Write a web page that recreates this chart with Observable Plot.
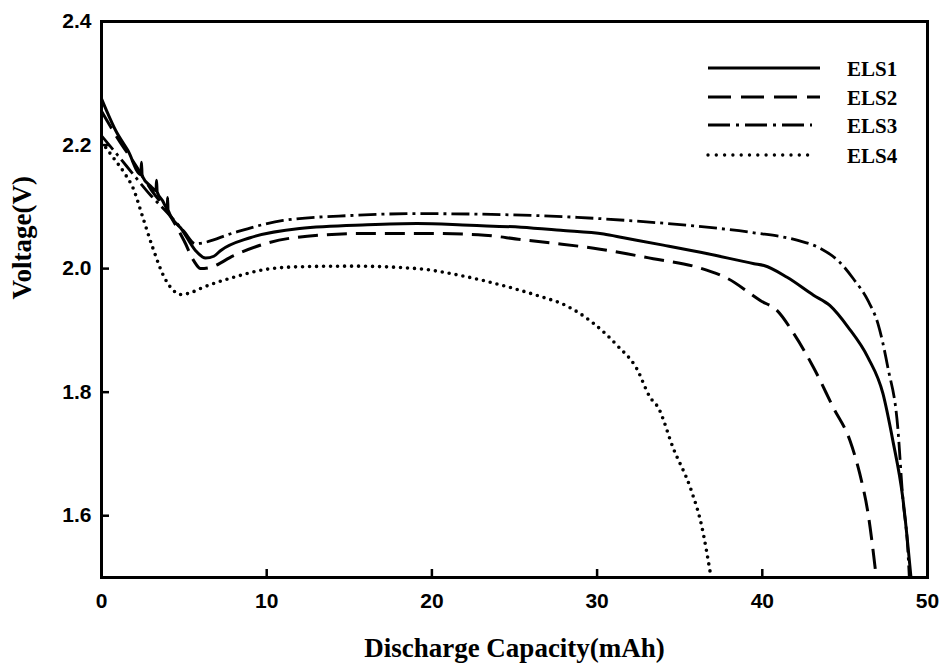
<!DOCTYPE html>
<html>
<head>
<meta charset="utf-8">
<script src="https://cdn.jsdelivr.net/npm/d3@7"></script>
<script src="https://cdn.jsdelivr.net/npm/@observablehq/plot@0.6"></script>
<style>
  html, body { margin: 0; padding: 0; background: #fff; }
  #chart { position: relative; width: 942px; height: 665px; }
</style>
</head>
<body>
<div id="chart"></div>
<script>
// Series names
const seriesNames = ["ELS1", "ELS2", "ELS3", "ELS4"];

// [capacity (mAh), voltage (V)]
const els1 = [
  [0, 2.275], [0.4, 2.25], [0.85, 2.224], [1.6, 2.191], [2.38, 2.152], [2.42, 2.172], [2.46, 2.150],
  [3.0, 2.133], [3.3, 2.126], [3.33, 2.143], [3.37, 2.124], [3.7, 2.110], [3.98, 2.097], [4.0, 2.115], [4.03, 2.095],
  [4.9, 2.062], [5.7, 2.029], [6.3, 2.017], [6.8, 2.020], [7.2, 2.029], [9.0, 2.050], [12.0, 2.065],
  [16.1, 2.071], [19.1, 2.073], [22.3, 2.070], [25.4, 2.067], [27.8, 2.062], [30.4, 2.056],
  [31.6, 2.050], [34.0, 2.038], [36.7, 2.024], [39.5, 2.008], [40.1, 2.005], [41.5, 1.986],
  [43.1, 1.957], [44.1, 1.940], [45.2, 1.905], [46.4, 1.856], [47.3, 1.798], [47.9, 1.722],
  [48.5, 1.630], [49.0, 1.500]
];
const els2 = [
  [0, 2.255], [1.0, 2.21], [2.0, 2.17], [3.0, 2.128], [4.0, 2.092], [5.0, 2.045], [5.6, 2.012],
  [6.0, 2.000], [6.6, 2.002], [8.0, 2.021], [10.0, 2.041], [13.1, 2.054], [16.1, 2.057],
  [19.1, 2.057], [22.8, 2.055], [25.4, 2.047], [27.4, 2.041], [29.8, 2.033], [31.8, 2.024],
  [33.4, 2.016], [36.1, 2.002], [37.9, 1.984], [39.9, 1.948], [40.9, 1.932], [41.9, 1.895],
  [43.1, 1.840], [44.3, 1.775], [45.3, 1.722], [45.9, 1.668], [46.4, 1.604], [46.9, 1.500]
];
const els3 = [
  [0, 2.215], [1.0, 2.183], [2.0, 2.150], [3.0, 2.118], [4.0, 2.090], [5.0, 2.060], [5.7, 2.040],
  [6.0, 2.041], [8.0, 2.058], [11.0, 2.078], [15.1, 2.086], [19.1, 2.089], [24.8, 2.087],
  [28.8, 2.083], [31.8, 2.078], [35.5, 2.070], [39.5, 2.058], [42.1, 2.046], [43.5, 2.033],
  [44.7, 2.010], [45.5, 1.984], [46.4, 1.948], [47.0, 1.911], [47.6, 1.840], [48.2, 1.743],
  [48.5, 1.630], [48.8, 1.549], [48.9, 1.500]
];
const els4 = [
  [0, 2.205], [0.7, 2.180], [1.5, 2.150], [1.9, 2.131], [2.5, 2.083], [3.1, 2.034], [3.8, 1.986],
  [4.3, 1.966], [4.8, 1.958], [5.4, 1.961], [6.0, 1.968], [8.0, 1.986], [10.0, 1.999],
  [12.0, 2.003], [15.1, 2.004], [19.1, 2.000], [21.7, 1.989], [24.8, 1.969], [26.8, 1.953],
  [27.8, 1.944], [29.8, 1.911], [31.2, 1.876], [32.4, 1.838], [33.2, 1.792], [33.7, 1.775],
  [34.6, 1.710], [35.7, 1.641], [36.3, 1.587], [36.9, 1.500]
];

// Axis ticks and labels
const xTicks = [0, 10, 20, 30, 40, 50];
const yTicks = [1.6, 1.8, 2.0, 2.2, 2.4];
const xLabel = "Discharge Capacity(mAh)";
const yLabel = "Voltage(V)";

const seriesData = [els1, els2, els3, els4];
const dashes = [null, "20,9", "18,5,3,5", "0,7"];
const widths = [3, 3, 2.8, 3.6];

const tickFont = "Liberation Sans, Arial, Helvetica, sans-serif";
const serifFont = "Liberation Serif, Times New Roman, serif";

const lineMarks = seriesData.map((data, i) =>
  Plot.line(data, {
    x: d => d[0], y: d => d[1],
    stroke: "black", strokeWidth: widths[i],
    strokeDasharray: dashes[i],
    strokeLinecap: i === 3 ? "round" : "butt",
    curve: "monotone-x", clip: true
  })
);

const chart = Plot.plot({
  width: 942,
  height: 665,
  marginLeft: 101,
  marginRight: 15,
  marginTop: 21,
  marginBottom: 88,
  style: { background: "white", color: "black" },
  x: { domain: [0, 50] },
  y: { domain: [1.5, 2.4] },
  marks: [
    ...lineMarks,
    Plot.ruleX(xTicks, { x: d => d, insetTop: 548, stroke: "black", strokeWidth: 2.5 }),
    Plot.ruleY(yTicks, { y: d => d, insetRight: 818, stroke: "black", strokeWidth: 2.5 }),
    Plot.frame({ stroke: "black", strokeWidth: 3 }),
    Plot.axisX({ ticks: xTicks, tickSize: 0, tickPadding: 16, tickFormat: d => String(d),
      label: null, fontSize: 21, fontWeight: "bold", fontFamily: tickFont }),
    Plot.axisY({ ticks: yTicks, tickSize: 0, tickPadding: 10, tickFormat: d => d.toFixed(1),
      label: null, fontSize: 21, fontWeight: "bold", fontFamily: tickFont }),
    Plot.text([xLabel], { text: d => d, frameAnchor: "bottom", dy: 71, lineAnchor: "middle",
      fontSize: 27, fontWeight: "bold", fontFamily: serifFont }),
    Plot.text([yLabel], { text: d => d, frameAnchor: "left", dx: -79, rotate: -90, lineAnchor: "middle",
      fontSize: 27, fontWeight: "bold", fontFamily: serifFont })
  ]
});

document.getElementById("chart").appendChild(chart);

// Legend (inside top-right of frame)
const svg = d3.select(chart);
const legend = svg.append("g").attr("class", "legend").attr("text-anchor", "start");
const rowsY = [68, 97, 125, 155];
const legendDash = [null, "23,10", "22,6,3,6", "0,8.3"];
seriesNames.forEach((name, i) => {
  legend.append("line")
    .attr("x1", 708).attr("x2", i >= 2 ? 812 : 820)
    .attr("y1", rowsY[i]).attr("y2", rowsY[i])
    .attr("stroke", "black").attr("stroke-width", i === 3 ? 3.4 : 3)
    .attr("stroke-linecap", i === 3 ? "round" : "butt")
    .attr("stroke-dasharray", legendDash[i]);
  legend.append("text")
    .attr("x", 847).attr("y", rowsY[i] + 8)
    .attr("text-anchor", "start")
    .attr("font-family", serifFont).attr("font-weight", "bold").attr("font-size", 21)
    .attr("fill", "black")
    .text(name);
});
</script>
</body>
</html>
